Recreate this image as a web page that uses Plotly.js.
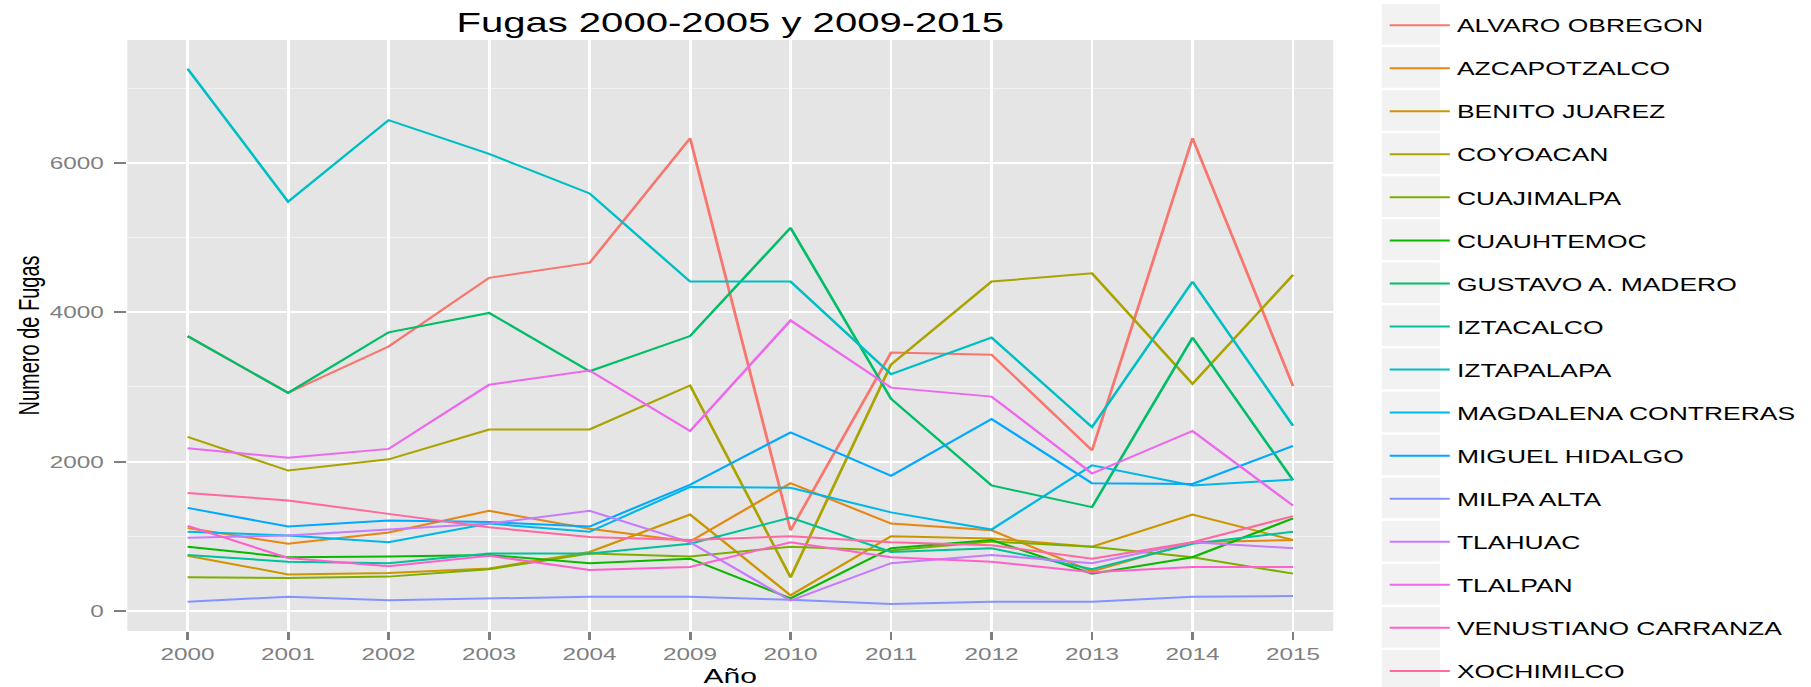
<!DOCTYPE html>
<html><head><meta charset="utf-8">
<script src="https://cdn.plot.ly/plotly-3.0.1.min.js"></script>
<style>
html,body{margin:0;padding:0;background:#fff;overflow:hidden;}
#wrap{width:1811px;height:687px;overflow:hidden;position:relative;}
#chart{width:1266px;height:687px;transform:scaleX(1.4305);transform-origin:0 0;}
</style></head><body><div id="wrap"><div id="chart"></div></div>
<script>
// ---- data ----
const years = ['2000','2001','2002','2003','2004','2009','2010','2011','2012','2013','2014','2015'];
const delegaciones = ['ALVARO OBREGON','AZCAPOTZALCO','BENITO JUAREZ','COYOACAN','CUAJIMALPA','CUAUHTEMOC',
  'GUSTAVO A. MADERO','IZTACALCO','IZTAPALAPA','MAGDALENA CONTRERAS','MIGUEL HIDALGO','MILPA ALTA',
  'TLAHUAC','TLALPAN','VENUSTIANO CARRANZA','XOCHIMILCO'];
const alvaroObregon      = [3680, 2920, 3540, 4460, 4660, 6330, 1080, 3460, 3430, 2150, 6330, 3010];
const azcapotzalco       = [1110,  900, 1050, 1340, 1100,  930, 1710, 1170, 1080,  530,  920,  950];
const benitoJuarez       = [ 740,  490,  510,  570,  790, 1290,  210, 1000,  970,  860, 1290,  950];
const coyoacan           = [2330, 1880, 2030, 2430, 2430, 3020,  450, 3300, 4410, 4520, 3040, 4500];
const cuajimalpa         = [ 450,  440,  460,  560,  770,  730,  860,  810,  930,  860,  720,  500];
const cuauhtemoc         = [ 860,  720,  730,  750,  640,  700,  170,  840,  950,  500,  720, 1240];
const gustavoAMadero     = [3680, 2920, 3730, 3990, 3210, 3680, 5130, 2840, 1680, 1390, 3660, 1750];
const iztacalco          = [ 750,  660,  640,  770,  770,  900, 1250,  790,  840,  560,  900, 1060];
const iztapalapa         = [7260, 5480, 6570, 6120, 5590, 4410, 4410, 3170, 3660, 2460, 4410, 2480];
const magdalenaContreras = [1060, 1010,  920, 1170, 1060, 1660, 1650, 1320, 1090, 1950, 1680, 1760];
const miguelHidalgo      = [1380, 1130, 1210, 1190, 1130, 1690, 2390, 1810, 2570, 1710, 1700, 2210];
const milpaAlta          = [ 125,  190,  145,  170,  190,  190,  150,   95,  125,  125,  190,  200];
const tlahuac            = [ 980, 1010, 1090, 1170, 1340,  920,  140,  640,  750,  640,  920,  840];
const tlalpan            = [2180, 2050, 2170, 3030, 3220, 2410, 3890, 2990, 2870, 1840, 2410, 1410];
const venustianoCarranza = [1140,  710,  600,  740,  550,  590,  920,  720,  660,  520,  590,  590];
const xochimilco         = [1580, 1480, 1300, 1120,  990,  950, 1000,  920,  880,  700,  920, 1270];
const yTickValues = [0, 2000, 4000, 6000];
const yTickLabels = ['0', '2000', '4000', '6000'];
const seriesValues = [alvaroObregon, azcapotzalco, benitoJuarez, coyoacan, cuajimalpa, cuauhtemoc,
  gustavoAMadero, iztacalco, iztapalapa, magdalenaContreras, miguelHidalgo, milpaAlta,
  tlahuac, tlalpan, venustianoCarranza, xochimilco];

// ggplot2 default discrete hue palette for 16 levels
const palette = ['#F8766D','#E68613','#CD9600','#ABA300','#7CAE00','#0CB702','#00BE67','#00C19A',
  '#00BFC4','#00B8E7','#00A9FF','#8494FF','#C77CFF','#ED68ED','#FF61CC','#FF68A1'];

// ---- geometry (unstretched coordinates) ----
const W = 1266, H = 687;
const L = 89, R = 932, T = 40, B = 631;
const pw = R - L, ph = B - T;
const px2x = p => (p - L) / pw;
const px2y = p => (B - p) / ph;

const traces = delegaciones.map((name, i) => ({
  type: 'scatter', mode: 'lines', name: name, legendgroup: name,
  x: years, y: seriesValues[i],
  line: {color: palette[i], width: 2},
  hoverinfo: 'x+y+name'
}));

const keyTop = 24.3, keyStep = 43.07;
const shapes = delegaciones.map((_, i) => {
  const yc = keyTop + keyStep * i;
  return {type: 'rect', xref: 'paper', yref: 'paper', layer: 'below',
    x0: px2x(966), x1: px2x(1006.6), y0: px2y(yc + 20.3), y1: px2y(yc - 20.3),
    fillcolor: '#F2F2F2', line: {width: 0}};
});

const layout = {
  width: W, height: H,
  margin: {l: L, r: W - R, t: T, b: H - B, pad: 0, autoexpand: false},
  paper_bgcolor: '#ffffff', plot_bgcolor: '#E5E5E5',
  font: {family: 'Liberation Sans, Arial, sans-serif', color: '#000'},
  title: {text: 'Fugas 2000-2005 y 2009-2015', font: {size: 28, color: '#000'},
    x: 0.5, xref: 'paper', xanchor: 'center', y: 1 - 22.5 / H, yref: 'container', yanchor: 'middle'},
  xaxis: {type: 'category', range: [-0.6, 11.4], showgrid: true, gridcolor: '#ffffff', gridwidth: 2,
    zeroline: false, showline: false, ticks: 'outside', ticklen: 8, tickwidth: 2, tickcolor: '#7F7F7F',
    ticklabelstandoff: 0,
    tickfont: {size: 17, color: '#7F7F7F'}, automargin: false, fixedrange: true,
    title: {text: 'Año', font: {size: 21, color: '#000'}, standoff: 6}},
  yaxis: {range: [-268, 7644], tickmode: 'array', tickvals: yTickValues, ticktext: yTickLabels,
    showgrid: true, gridcolor: '#ffffff', gridwidth: 2, zeroline: false, showline: false,
    minor: {tickmode: 'array', tickvals: [1000, 3000, 5000, 7000], showgrid: true, gridcolor: '#F2F2F2', gridwidth: 1, ticks: ''},
    ticks: 'outside', ticklen: 8, tickwidth: 2, tickcolor: '#7F7F7F',
    ticklabelstandoff: 4,
    tickfont: {size: 17, color: '#7F7F7F'}, automargin: false, fixedrange: true,
    title: {text: 'Numero de Fugas', font: {size: 20, color: '#000'}, standoff: 1}},
  showlegend: true,
  legend: {x: px2x(966.5), xanchor: 'left', xref: 'paper', y: px2y(6.6), yanchor: 'top', yref: 'paper',
    font: {size: 18.5, color: '#000'}, bgcolor: 'rgba(0,0,0,0)', borderwidth: 0,
    itemwidth: 42, tracegroupgap: 16, traceorder: 'grouped', maxheight: 800},
  shapes: shapes
};

Plotly.newPlot('chart', traces, layout, {displayModeBar: false, responsive: false});
</script></body></html>
